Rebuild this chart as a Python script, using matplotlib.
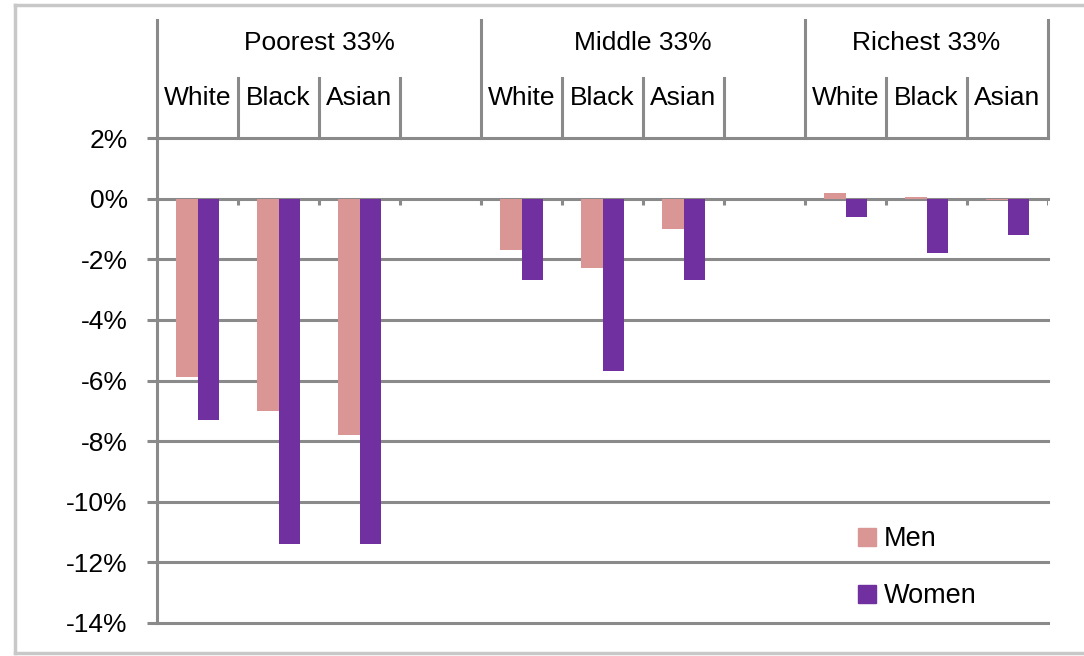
import matplotlib
matplotlib.use("Agg")
import matplotlib.pyplot as plt
from matplotlib.lines import Line2D
from matplotlib.patches import Patch
import numpy as np

plt.rcParams['font.family'] = ['Liberation Sans', 'DejaVu Sans']

# data
groups = ['Poorest 33%', 'Middle 33%', 'Richest 33%']
races = ['White', 'Black', 'Asian']
men = [[-5.9, -7.0, -7.8],
       [-1.7, -2.3, -1.0],
       [0.2, 0.07, -0.05]]
women = [[-7.3, -11.4, -11.4],
         [-2.7, -5.7, -2.7],
         [-0.6, -1.8, -1.2]]
yticks = [2, 0, -2, -4, -6, -8, -10, -12, -14]

MEN_COL = '#d99694'
WOMEN_COL = '#7030a0'
GRID = '#8a8a8a'
FS = 19

# slot layout: 3 races + 1 empty slot per group, last group has no spare slot
slots = [len(races) + 1, len(races) + 1, len(races)]
starts = np.concatenate([[0], np.cumsum(slots)[:-1]])
nslots = sum(slots)

fig = plt.figure(figsize=(10.84, 6.56), dpi=100)
ax = fig.add_axes([157 / 1084, 1 - 623 / 656, 891 / 1084, 485 / 656])

w = 0.265
for g, s in enumerate(starts):
    x = s + np.arange(len(races))
    ax.bar(x + 0.5 - w / 2, men[g], width=w, color=MEN_COL, zorder=3)
    ax.bar(x + 0.5 + w / 2, women[g], width=w, color=WOMEN_COL, zorder=3)

ax.set_xlim(0, nslots)
ax.set_ylim(-14, 2)
ax.set_yticks(yticks)
ax.set_yticklabels(['%d%%' % v for v in yticks], fontsize=FS)
ax.tick_params(axis='y', length=7, width=2.2, color=GRID, pad=14)
ax.set_xticks([])
for y in yticks[:-1]:
    ax.axhline(y, color=GRID, lw=2.2, zorder=1, clip_on=False)
for sp in ['top', 'right']:
    ax.spines[sp].set_visible(False)
ax.spines['left'].set_color(GRID)
ax.spines['left'].set_linewidth(2.2)
ax.spines['bottom'].set_color(GRID)
ax.spines['bottom'].set_linewidth(2.2)

# small ticks below the 0% line
ax.vlines(np.arange(1, nslots + 1), -0.22, 0, color=GRID, lw=2.2, zorder=2)

# header: group and category labels with separators above the plot
trans = ax.get_xaxis_transform()
top_g = 1 + (138 - 20) / 485
top_c = 1 + (138 - 78) / 485
y_g = 1 + (138 - 43) / 485
y_c = 1 + (138 - 98) / 485
for g, s in enumerate(starts):
    ax.plot([s, s], [1, top_g], transform=trans, color=GRID, lw=2.2, clip_on=False)
    ax.text(s + slots[g] / 2, y_g, groups[g], transform=trans, ha='center',
            va='center', fontsize=FS)
    for i, r in enumerate(races):
        ax.text(s + i + 0.5, y_c, r, transform=trans, ha='center', va='center',
                fontsize=FS)
    for i in range(1, slots[g]):
        ax.plot([s + i, s + i], [1, top_c], transform=trans, color=GRID, lw=2.2,
                clip_on=False)
ax.plot([nslots, nslots], [1, top_g], transform=trans, color=GRID, lw=2.2, clip_on=False)

handles = [Patch(color=MEN_COL, label='Men'), Patch(color=WOMEN_COL, label='Women')]
ax.legend(handles=handles, loc='upper left', bbox_to_anchor=(0.775, 0.222),
          frameon=False, fontsize=FS + 0.5, handlelength=0.65, handleheight=0.65,
          handletextpad=0.3, labelspacing=1.15, borderaxespad=0)

# light frame around the chart
frame = dict(color='#c8c8c8', lw=2.5, transform=fig.transFigure)
fig.add_artist(Line2D([15 / 1084, 15 / 1084], [1 - 653 / 656, 1 - 5 / 656], **frame))
fig.add_artist(Line2D([15 / 1084, 1], [1 - 5 / 656, 1 - 5 / 656], **frame))
fig.add_artist(Line2D([15 / 1084, 1], [1 - 653 / 656, 1 - 653 / 656], **frame))

fig.savefig('out.png', dpi=100)
